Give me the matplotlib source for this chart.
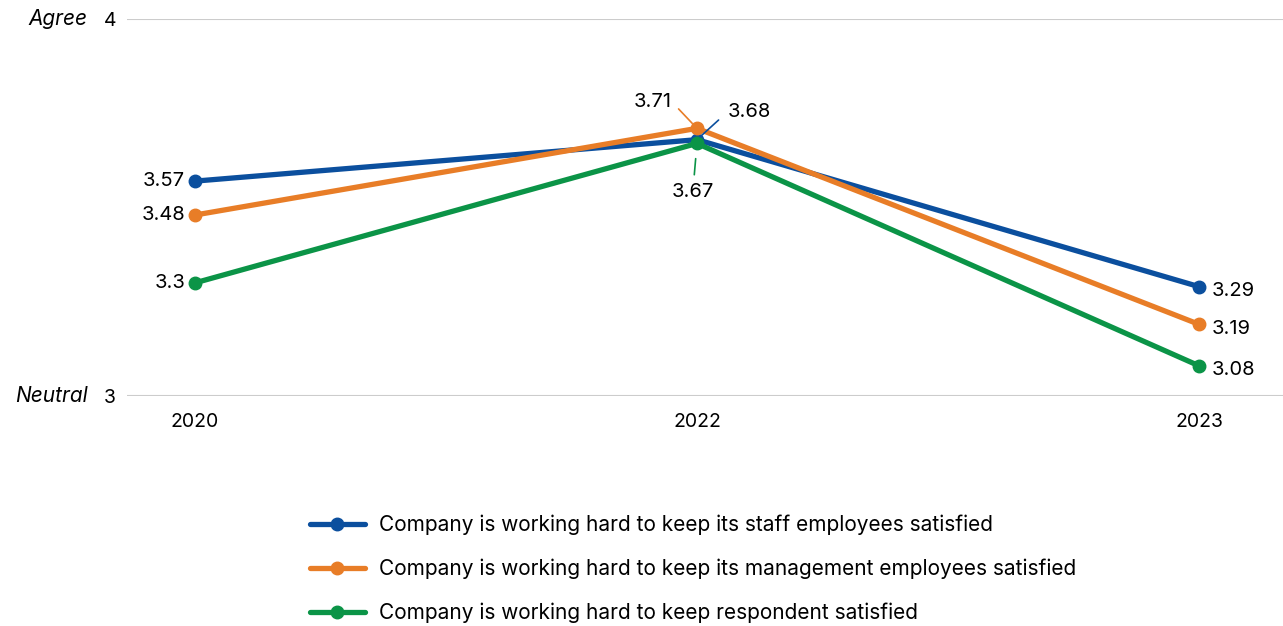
import matplotlib
matplotlib.use("Agg")
import matplotlib.pyplot as plt

plt.rcParams['font.family'] = ['Inter', 'DejaVu Sans']

years = ['2020', '2022', '2023']
staff = [3.57, 3.68, 3.29]
management = [3.48, 3.71, 3.19]
respondent = [3.30, 3.67, 3.08]

labels = [
    'Company is working hard to keep its staff employees satisfied',
    'Company is working hard to keep its management employees satisfied',
    'Company is working hard to keep respondent satisfied',
]
colors = ['#0B4F9E', '#E87D27', '#0B9447']

fig = plt.figure(figsize=(12.83, 6.26), dpi=100)
ax = fig.add_axes([0.099, 0.3674, 0.901, 0.6022])

x = range(len(years))
series = [staff, management, respondent]
for vals, lab, col in zip(series, labels, colors):
    ax.plot(x, vals, color=col, lw=3.8, marker='o', ms=9, label=lab,
            solid_capstyle='round', zorder=3)

ax.set_xlim(-0.135, 2.167)
ax.set_ylim(3, 4)
ax.set_yticks([3, 4])
ax.set_yticklabels(['3', '4'], fontsize=14)
ax.set_xticks(list(x))
ax.set_xticklabels(years, fontsize=14)
ax.tick_params(length=0, pad=8)
ax.tick_params(axis='x', pad=12)
ax.grid(axis='y', color='#cccccc', lw=1.5)
ax.set_axisbelow(True)
for s in ax.spines.values():
    s.set_visible(False)

ax.text(-0.034, 4, 'Agree', style='italic', fontsize=15, ha='right', va='center',
        transform=ax.get_yaxis_transform())
ax.text(-0.034, 3, 'Neutral', style='italic', fontsize=15, ha='right', va='center',
        transform=ax.get_yaxis_transform())

# end labels
for vals in series:
    ax.annotate(f'{vals[0]:g}', (0, vals[0]), xytext=(-7, 0), textcoords='offset points',
                ha='right', va='center', fontsize=14.5)
    ax.annotate(f'{vals[2]:g}', (2, vals[2]), xytext=(9, -3), textcoords='offset points',
                ha='left', va='center', fontsize=14.5)

# middle labels with leader lines
ax.annotate(f'{management[1]:g}', (1, management[1]), xytext=(-18, 19),
            textcoords='offset points', ha='right', va='center', fontsize=14.5,
            arrowprops=dict(arrowstyle='-', color=colors[1], lw=1.2, relpos=(1, 0.5),
                            shrinkA=4, shrinkB=5))
ax.annotate(f'{staff[1]:g}', (1, staff[1]), xytext=(22, 20),
            textcoords='offset points', ha='left', va='center', fontsize=14.5,
            arrowprops=dict(arrowstyle='-', color=colors[0], lw=1.2, relpos=(0, 0.5),
                            shrinkA=6, shrinkB=3))
ax.annotate(f'{respondent[1]:g}', (1, respondent[1]), xytext=(-3, -35),
            textcoords='offset points', ha='center', va='center', fontsize=14.5,
            arrowprops=dict(arrowstyle='-', color=colors[2], lw=1.2,
                            shrinkA=4, shrinkB=11))

fig.legend(loc='center', bbox_to_anchor=(0.540, 0.091), frameon=False, fontsize=15,
           handlelength=2.64, handletextpad=0.67, labelspacing=1.12)

fig.savefig('out.png', dpi=100)
